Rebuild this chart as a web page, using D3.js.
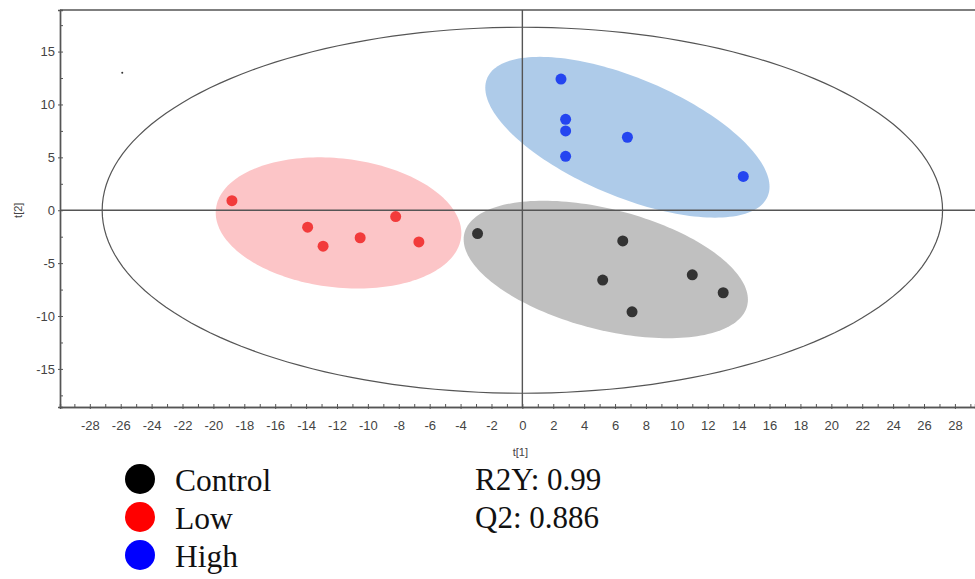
<!DOCTYPE html>
<html>
<head>
<meta charset="utf-8">
<script src="https://cdn.jsdelivr.net/npm/d3@7"></script>
<style>
  body { margin: 0; background: #fff; }
</style>
</head>
<body>
<div id="chart"></div>
<script>
// score values t[1], t[2] per group
const groups = ["Control", "Low", "High"];
const groupColors = ["#333333", "#f23b3b", "#2445f0"];
const fillColors = ["#c0c0c0", "#fcc5c7", "#aecbe9"];

const controlT1 = [-2.9, 6.5, 5.2, 11.0, 13.0, 7.1];
const controlT2 = [-2.2, -2.9, -6.6, -6.1, -7.8, -9.6];
const lowT1 = [-18.8, -13.9, -12.9, -10.5, -8.2, -6.7];
const lowT2 = [0.9, -1.6, -3.4, -2.6, -0.6, -3.0];
const highT1 = [2.5, 2.8, 2.8, 6.8, 2.8, 14.3];
const highT2 = [12.4, 8.6, 7.5, 6.9, 5.1, 3.2];

// group ellipses: centre, half width, half height, phase
const ellCx = [5.4, -11.9, 6.8];
const ellCy = [-5.6, -1.2, 6.9];
const ellA = [9.2, 7.95, 9.2];
const ellB = [6.5, 6.2, 7.6];
const ellDelta = [116, 99, 128];

// Hotelling T2 ellipse
const t2A = 27.2, t2B = 17.3;

const xTicks = d3.range(-28, 29, 2);
const xMinor = d3.range(-29, 30, 1);
const yTicks = [-15, -10, -5, 0, 5, 10, 15];
const yMinor = d3.range(-17.5, 18, 2.5);

const stats = ["R2Y: 0.99", "Q2: 0.886"];

const width = 975, height = 579;
const svg = d3.select("#chart").append("svg")
  .attr("width", width)
  .attr("height", height);

const x = d3.scaleLinear().domain([-29.93, 29.3]).range([60, 975]);
const y = d3.scaleLinear().domain([-18.6, 18.93]).range([407, 10]);

const line = d3.line().x(d => x(d[0])).y(d => y(d[1]));
function ellipse(cx, cy, a, b, deltaDeg) {
  const dl = deltaDeg * Math.PI / 180;
  const pts = d3.range(0, 361, 2).map(t => {
    const r = t * Math.PI / 180;
    return [cx + a * Math.cos(r), cy + b * Math.cos(r - dl)];
  });
  return line(pts);
}

// filled group ellipses
[0, 1, 2].forEach(i => {
  svg.append("path")
    .attr("d", ellipse(ellCx[i], ellCy[i], ellA[i], ellB[i], ellDelta[i]))
    .attr("fill", fillColors[i]);
});

// T2 ellipse
svg.append("path")
  .attr("d", ellipse(0, 0, t2A, t2B, 90))
  .attr("fill", "none")
  .attr("stroke", "#555")
  .attr("stroke-width", 1.2);

// zero lines
svg.append("line")
  .attr("x1", x(-29.93)).attr("x2", x(29.3))
  .attr("y1", y(0)).attr("y2", y(0))
  .attr("stroke", "#555").attr("stroke-width", 1.4);
svg.append("line")
  .attr("x1", x(0)).attr("x2", x(0))
  .attr("y1", y(18.93)).attr("y2", y(-18.6))
  .attr("stroke", "#555").attr("stroke-width", 1.4);

// frame top
svg.append("line")
  .attr("x1", 60).attr("x2", 975)
  .attr("y1", 10).attr("y2", 10)
  .attr("stroke", "#555").attr("stroke-width", 1.4);

// axes
svg.append("g")
  .attr("transform", `translate(0,${y(-18.6)})`)
  .call(d3.axisBottom(x).tickValues(xMinor).tickSize(-3).tickFormat(""));
svg.append("g")
  .attr("transform", `translate(0,${y(-18.6)})`)
  .call(d3.axisBottom(x).tickValues(xTicks).tickSize(2).tickPadding(12).tickFormat(d => d));
svg.append("g")
  .attr("transform", `translate(${x(-29.93)},0)`)
  .call(d3.axisLeft(y).tickValues(yMinor).tickSize(-3).tickFormat(""));
svg.append("g")
  .attr("transform", `translate(${x(-29.93)},0)`)
  .call(d3.axisLeft(y).tickValues(yTicks).tickSize(2).tickPadding(3).tickFormat(d => d));

svg.selectAll(".domain").attr("stroke", "#555").attr("stroke-width", 1.4);
svg.selectAll(".tick line").attr("stroke", "#555");
svg.selectAll(".tick text")
  .attr("fill", "#444")
  .style("font-family", "Liberation Sans, Arial, sans-serif")
  .style("font-size", "13px");

svg.append("text")
  .attr("x", x(0) - 2).attr("y", 456)
  .attr("text-anchor", "middle")
  .attr("fill", "#444")
  .style("font-family", "Liberation Sans, Arial, sans-serif")
  .style("font-size", "11px")
  .text("t[1]");
svg.append("text")
  .attr("transform", `translate(22,${y(0)}) rotate(-90)`)
  .attr("text-anchor", "middle")
  .attr("fill", "#444")
  .style("font-family", "Liberation Sans, Arial, sans-serif")
  .style("font-size", "11px")
  .text("t[2]");

// stray mark near top-left
svg.append("circle")
  .attr("cx", x(-25.9)).attr("cy", y(13.0)).attr("r", 1)
  .attr("fill", "#333");

// points
const series = [[controlT1, controlT2], [lowT1, lowT2], [highT1, highT2]];
series.forEach((s, i) => {
  svg.append("g").selectAll("circle")
    .data(s[0].map((v, j) => [v, s[1][j]]))
    .join("circle")
      .attr("cx", d => x(d[0]))
      .attr("cy", d => y(d[1]))
      .attr("r", 5.5)
      .attr("fill", groupColors[i]);
});

// legend
const legendColors = ["#000000", "#ff0000", "#0000ff"];
const legend = svg.append("g");
groups.forEach((g, i) => {
  const cy = 479 + i * 38;
  legend.append("circle")
    .attr("cx", 140).attr("cy", cy).attr("r", 15)
    .attr("fill", legendColors[i]);
  legend.append("text")
    .attr("x", 175).attr("y", cy + 12)
    .style("font-family", "Liberation Serif, Times New Roman, serif")
    .style("font-size", "31.5px")
    .attr("fill", "#111")
    .text(g);
});
stats.forEach((s, i) => {
  legend.append("text")
    .attr("x", 475).attr("y", 490 + i * 38)
    .style("font-family", "Liberation Serif, Times New Roman, serif")
    .style("font-size", "31px")
    .attr("fill", "#111")
    .text(s);
});
</script>
</body>
</html>
